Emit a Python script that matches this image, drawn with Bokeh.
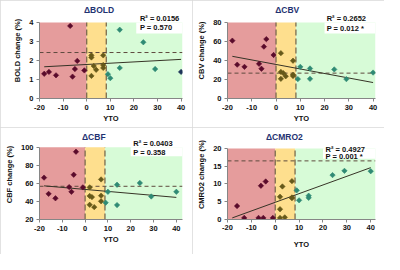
import math
from bokeh.plotting import figure
from bokeh.layouts import gridplot
from bokeh.models import Range1d, FixedTicker, Label
from bokeh.embed import file_html
from bokeh.resources import INLINE

# ---------------- data ----------------
yto_red = [-18, -16, -13, -7, -6, -5, -4, -1]
yto_yel = [2, 2, 2, 3, 4, 7, 7, 7]
yto_grn = [9, 10, 14, 14, 24, 29, 40]

bold_red = [1.30, 1.40, 1.22, 3.82, 1.15, 1.55, 1.98, 1.48]
bold_yel = [2.27, 2.16, 1.19, 1.71, 1.51, 2.27, 1.76, 1.61]
bold_grn = [1.28, 1.07, 3.62, 1.61, 2.96, 1.55, 1.40]

cbv_red = [60.9, 35.6, 33.3, 36.5, 31.3, 54.6, 62.5, 45.8]
cbv_yel = [47.7, 28.0, 20.7, 26.7, 23.4, 39.8, 25.0, 23.7]
cbv_grn = [20.4, 33.3, 31.6, 20.7, 30.6, 20.4, 27.3]

cbf_red = [66.4, 48.4, 43.5, 55.9, 50.7, 69.6, 95.1, 55.6]
cbf_yel = [55.6, 46.1, 36.3, 44.8, 33.7, 64.4, 46.4, 40.2]
cbf_grn = [38.6, 50.7, 58.5, 36.0, 60.5, 45.5, 50.7]

cmro2_red = [-1.3, 3.8, 0.45, 0.45, 9.5, 0.45, 10.7, 0.45]
cmro2_yel = [6.4, 2.9, 0.45, 9.3, 0.6, 10.8, 6.2, 6.0]
cmro2_grn = [8.2, 5.4, 6.7, 6.1, 12.5, 13.7, 13.6]

fit_x = [-18, 40]
bold_fit = [1.67, 2.06]
cbv_fit = [44.4, 16.8]
cbf_fit = [57.3, 44.5]
cmro2_fit = [0.45, 14.6]

bold_ref = 2.42
cbv_ref = 26.7
cbf_ref = 56.8
cmro2_ref = 16.5

r2_texts = ["R\u00b2 = 0.0156", "R\u00b2 = 0.2652", "R\u00b2 = 0.0403", "R\u00b2 = 0.4927"]
p_texts = ["P = 0.570", "P = 0.012 *", "P = 0.358", "P = 0.001 *"]
titles = ["\u0394BOLD", "\u0394CBV", "\u0394CBF", "\u0394CMRO2"]
ylabels = ["BOLD change (%)", "CBV change (%)", "CBF change (%)", "CMRO2 change (%)"]
xlabel = "YTO"

x_ticks = [-20, -10, 0, 10, 20, 30, 40]
x_tick_labels = ["-20", "-10", "0", "10", "20", "30", "40"]
bold_yticks = [0, 1, 2, 3, 4]
cbv_yticks = [0, 20, 40, 60, 80]
cbf_yticks = [20, 40, 60, 80, 100]
cmro2_yticks = [-5, 0, 5, 10, 15, 20]

# ---------------- styling ----------------
FONT = "Liberation Sans"
C_RED_BG = "#e59c9c"
C_YEL_BG = "#fedf8e"
C_GRN_BG = "#d7fbd7"
C_RED_PT = "#5a0b2b"
C_YEL_PT = "#66591a"
C_GRN_PT = "#2f8a74"
C_NAVY_PT = "#1d3358"
AX = "#868686"
TXT = "#111111"
TOP = 2   # actual frame top (frame extended upward to hold title / stats)
XMIN = -20

panels = [
    dict(red=bold_red, yel=bold_yel, grn=bold_grn, fit=bold_fit, ref=bold_ref, yticks=bold_yticks,
         yr=(0, 4), xend=40.6, bnd=8.3, regbot=0, boxx=21, boxy=3.42,
         b=(31, 10, 22, 29), toff=47, hl=[("grn", 6)], label_px=(137, 18.1, 27.3), cross0=False),
    dict(red=cbv_red, yel=cbv_yel, grn=cbv_grn, fit=cbv_fit, ref=cbv_ref, yticks=cbv_yticks,
         yr=(0, 80), xend=41, bnd=8.2, regbot=0, boxx=20, boxy=68.5,
         b=(34, 9, 22, 29), toff=48, hl=[], label_px=(133.8, 18.2, 27.6), cross0=False),
    dict(red=cbf_red, yel=cbf_yel, grn=cbf_grn, fit=cbf_fit, ref=cbf_ref, yticks=cbf_yticks,
         yr=(20, 100), xend=42.7, bnd=8.7, regbot=20, boxx=20, boxy=90,
         b=(39, 5, 21, 29), toff=44, hl=[], label_px=(136, 17.2, 26.6), cross0=False),
    dict(red=cmro2_red, yel=cmro2_yel, grn=cmro2_grn, fit=cmro2_fit, ref=cmro2_ref, yticks=cmro2_yticks,
         yr=(-5, 20), xend=42, bnd=8.3, regbot=0, boxx=20, boxy=17.1,
         b=(35, 7, 21, 17), toff=39, hl=[("red", 0)], label_px=(134.4, 21.9, 29.1), cross0=True),
]

W, H = 192, 127


def style_axis(ax):
    ax.axis_line_color = AX
    ax.major_tick_line_color = AX
    ax.major_tick_out = 3
    ax.major_tick_in = 0
    ax.minor_tick_line_color = None
    ax.major_label_text_font = FONT
    ax.major_label_text_font_style = "bold"
    ax.major_label_text_font_size = "7.5px"
    ax.major_label_text_color = TXT
    ax.major_label_standoff = 3
    ax.axis_label_text_font = FONT
    ax.axis_label_text_font_style = "bold"
    ax.axis_label_text_font_size = "7.5px"
    ax.axis_label_text_color = TXT


def text_label(x, y, txt, size="7.5px", color=TXT, align="left"):
    return Label(x=x, y=y, text=txt, text_font=FONT, text_font_size=size,
                 text_font_style="bold", text_color=color, text_baseline="middle",
                 text_align=align)


def make_panel(i, cfg):
    L, R, T, B = cfg["b"]
    x1 = cfg["xend"]
    y0, y1 = cfg["yr"]
    cross = cfg["cross0"]
    ppu = (H - T - B) / (y1 - y0)          # pixels per y unit
    ytop = y1 + (T - TOP) / ppu            # frame extended above the top tick
    if cross:
        # frame ends where the x axis crosses (y = 0); the y axis continues below via bounds
        ybot = 0
        mbb = int(round(H - (T + (y1 - 0) * ppu)))
    else:
        ybot = y0
        mbb = B
    ppx = (W - L - R) / (x1 - XMIN)

    p = figure(width=W, height=H, x_range=Range1d(XMIN, x1), y_range=Range1d(ybot, ytop),
               output_backend="svg", toolbar_location=None,
               min_border_left=L, min_border_right=R, min_border_top=TOP, min_border_bottom=mbb)
    p.styles = {"outline": "1px solid #d9d9d9", "outline-offset": "-1px"}
    p.grid.visible = False
    p.outline_line_color = None

    def dx(px):
        return XMIN + (px - L) / ppx

    def dy(py):
        return y1 - (py - T) / ppu

    # background regions
    rb = cfg["regbot"]
    p.quad(left=[XMIN], right=[0], bottom=[rb], top=[y1], fill_color=C_RED_BG, line_color=None)
    p.quad(left=[0], right=[cfg["bnd"]], bottom=[rb], top=[y1], fill_color=C_YEL_BG, line_color=None)
    p.quad(left=[cfg["bnd"]], right=[x1], bottom=[rb], top=[y1], fill_color=C_GRN_BG, line_color=None)
    p.quad(left=[cfg["boxx"]], right=[x1], bottom=[cfg["boxy"]], top=[y1], fill_color="white", line_color=None)

    # group boundaries
    p.segment(x0=[0, cfg["bnd"]], y0=[rb, rb], x1=[0, cfg["bnd"]], y1=[y1, y1],
              line_color="#7b6a4c", line_width=1.3, line_dash="6 3")
    # reference level
    p.line([XMIN, x1], [cfg["ref"], cfg["ref"]], line_color="#5e4a3e", line_width=1, line_dash="4 3")
    # regression
    p.line(fit_x, cfg["fit"], line_color="#363326", line_width=1)

    # title and stats
    p.add_layout(text_label(dx(L + cfg["toff"]), dy(9.9), titles[i], size="8.5px", color="#1f3372"))
    lx, ly1, ly2 = cfg["label_px"]
    p.add_layout(text_label(dx(lx), dy(ly1), r2_texts[i]))
    p.add_layout(text_label(dx(lx), dy(ly2), p_texts[i]))

    # axes
    style_axis(p.xaxis[0])
    style_axis(p.yaxis[0])
    p.yaxis.ticker = FixedTicker(ticks=cfg["yticks"])
    p.yaxis.bounds = (y0, y1)
    p.yaxis.axis_label = ylabels[i]
    p.yaxis.axis_label_standoff = 4
    p.xaxis.ticker = FixedTicker(ticks=x_ticks)
    p.xaxis.major_label_overrides = {t: s for t, s in zip(x_ticks, x_tick_labels)}
    p.xaxis.axis_label = xlabel
    if cross:
        p.xaxis.major_label_standoff = 2
        p.xaxis.axis_label_standoff = 7
    else:
        p.xaxis.axis_label_standoff = 1

    # points (drawn last, on top)
    groups = [("red", yto_red, cfg["red"], C_RED_PT), ("yel", yto_yel, cfg["yel"], C_YEL_PT),
              ("grn", yto_grn, cfg["grn"], C_GRN_PT)]
    for gname, xs, ys, col in groups:
        cols = [C_NAVY_PT if (gname, k) in cfg["hl"] else col for k in range(len(xs))]
        p.scatter(xs, ys, marker="square", angle=math.pi / 4, size=3.8,
                  fill_color=cols, line_color=cols, line_width=0.6)
    return p


figs = [make_panel(i, c) for i, c in enumerate(panels)]
grid = gridplot([[figs[0], figs[1]], [figs[2], figs[3]]], toolbar_location=None)

open("out.html", "w").write(file_html(grid, INLINE))
